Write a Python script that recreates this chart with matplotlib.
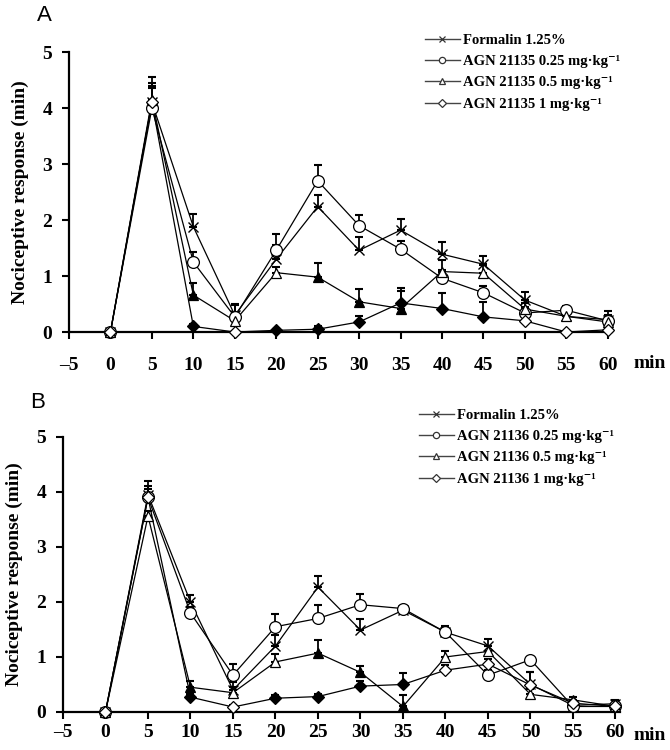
import matplotlib
matplotlib.use('Agg')
import matplotlib.pyplot as plt
from matplotlib.lines import Line2D
import numpy as np

plt.rcParams['font.family'] = ['Liberation Serif', 'DejaVu Serif']
plt.rcParams['font.weight'] = 'bold'

times = [0, 5, 10, 15, 20, 25, 30, 35, 40, 45, 50, 55, 60]

# panel A - AGN 21135
formalin_a = [0, 4.1, 1.88, 0.3, 1.3, 2.24, 1.46, 1.82, 1.39, 1.21, 0.57, 0.28, 0.22]
formalin_a_err = [0, 0.45, 0.22, 0.2, 0.25, 0.21, 0.24, 0.2, 0.22, 0.15, 0.15, 0.08, 0.16]
low_a = [0, 4.0, 1.25, 0.27, 1.46, 2.7, 1.9, 1.48, 0.96, 0.7, 0.34, 0.39, 0.2]
low_a_err = [0, 0.35, 0.18, 0.21, 0.29, 0.28, 0.19, 0.15, 0.15, 0.12, 0.1, 0.08, 0.1]
mid_a = [0, 4.15, 0.66, 0.2, 1.06, 0.98, 0.54, 0.42, 1.08, 1.05, 0.41, 0.28, 0.18]
mid_a_err = [0, 0.3, 0.22, 0.15, 0.1, 0.26, 0.23, 0.32, 0.2, 0.15, 0.1, 0.05, 0.05]
high_a = [0, 4.1, 0.1, 0.0, 0.03, 0.05, 0.18, 0.52, 0.42, 0.27, 0.2, 0.0, 0.04]
high_a_err = [0, 0.3, 0.05, 0.02, 0.03, 0.05, 0.1, 0.27, 0.28, 0.27, 0.08, 0.02, 0.03]
mid_a_sig = [10, 25, 30, 35]
high_a_sig = [10, 20, 25, 30, 35, 40, 45]

# panel B - AGN 21136
formalin_b = [0, 3.95, 2.0, 0.4, 1.2, 2.27, 1.49, 1.85, 1.45, 1.2, 0.5, 0.12, 0.15]
formalin_b_err = [0, 0.25, 0.12, 0.15, 0.2, 0.2, 0.2, 0.08, 0.12, 0.12, 0.22, 0.05, 0.06]
low_b = [0, 3.9, 1.8, 0.67, 1.55, 1.7, 1.95, 1.88, 1.45, 0.67, 0.95, 0.1, 0.1]
low_b_err = [0, 0.2, 0.1, 0.2, 0.24, 0.24, 0.2, 0.05, 0.08, 0.1, 0.05, 0.05, 0.05]
mid_b = [0, 3.56, 0.45, 0.35, 0.91, 1.07, 0.72, 0.1, 1.0, 1.1, 0.32, 0.22, 0.1]
mid_b_err = [0, 0.1, 0.12, 0.1, 0.15, 0.24, 0.12, 0.21, 0.1, 0.1, 0.1, 0.05, 0.04]
high_b = [0, 3.9, 0.27, 0.09, 0.25, 0.28, 0.47, 0.5, 0.76, 0.87, 0.49, 0.16, 0.1]
high_b_err = [0, 0.15, 0.05, 0.03, 0.05, 0.05, 0.1, 0.21, 0.1, 0.1, 0.23, 0.05, 0.04]
mid_b_sig = [10, 25, 30, 35]
high_b_sig = [10, 20, 25, 30, 35]

labels_a = ['Formalin 1.25%', 'AGN 21135 0.25 mg\u00b7kg\u207b\u00b9',
            'AGN 21135 0.5 mg\u00b7kg\u207b\u00b9', 'AGN 21135 1 mg\u00b7kg\u207b\u00b9']
labels_b = ['Formalin 1.25%', 'AGN 21136 0.25 mg\u00b7kg\u207b\u00b9',
            'AGN 21136 0.5 mg\u00b7kg\u207b\u00b9', 'AGN 21136 1 mg\u00b7kg\u207b\u00b9']

markers = ['x', 'o', '^', 'D']
msizes = [7, 8.5, 7.5, 6.5]


def draw_series(ax, y, err, marker, ms, sig):
    t = np.array(times)
    y = np.array(y)
    ax.errorbar(t, y, yerr=[np.zeros(len(err)), err], fmt='none', ecolor='black',
                elinewidth=1.3, capsize=3, capthick=1.5, zorder=2, clip_on=False)
    ax.plot(t, y, color='black', lw=0.9, zorder=3, clip_on=False)
    filled = np.isin(t, sig)
    if marker == 'x':
        ax.plot(t, y, ls='none', marker='x', ms=ms, mew=1.0, color='black', zorder=4, clip_on=False)
        return
    ax.plot(t[~filled], y[~filled], ls='none', marker=marker, ms=ms, mfc='white',
            mec='black', mew=0.9, zorder=4, clip_on=False)
    ax.plot(t[filled], y[filled], ls='none', marker=marker, ms=ms, mfc='black',
            mec='black', mew=0.9, zorder=5, clip_on=False)


def draw_panel(rect, series, letter, labels, leg_xy, xpad, min_xy, letter_y):
    ax = fig.add_axes(rect)
    for (y, err, sig), m, ms in zip(series, markers, msizes):
        draw_series(ax, y, err, m, ms, sig)
    ax.set_xlim(-5, 60.5)
    ax.set_ylim(0, 5)
    ax.set_xticks(range(-5, 61, 5))
    ax.set_xticklabels(['\u20135'] + [str(v) for v in range(0, 61, 5)])
    ax.set_yticks(range(0, 6))
    for s in ['top', 'right']:
        ax.spines[s].set_visible(False)
    for s in ['left', 'bottom']:
        ax.spines[s].set_linewidth(1.6)
    ax.tick_params(axis='x', direction='out', length=5, width=1.5, labelsize=14, pad=xpad)
    ax.tick_params(axis='y', direction='out', length=5, width=1.5, labelsize=14, pad=7)
    ax.set_ylabel('Nociceptive response (min)', fontsize=14, fontweight='bold', labelpad=10)
    ax.text(min_xy[0], min_xy[1], 'min', transform=ax.transAxes, fontsize=14, fontweight='bold',
            ha='center', va='baseline')
    ax.text(-0.045, letter_y, letter, transform=ax.transAxes, fontsize=16,
            family='Liberation Sans', fontweight='normal', ha='center', va='center')
    handles = []
    for m, lab in zip(markers, labels):
        if m == 'x':
            handles.append(Line2D([], [], color='#444444', lw=1, marker='x', ms=4.5, mew=0.9, mec='#333333'))
        else:
            handles.append(Line2D([], [], color='#444444', lw=1, marker=m, ms=4.5, mfc='white',
                                  mec='#333333', mew=0.9))
    fig.legend(handles, labels, loc='upper left', bbox_to_anchor=leg_xy, frameon=False,
               prop={'size': 10.5, 'weight': 'bold'}, handlelength=2.4, handletextpad=0.2,
               labelspacing=0.55, borderpad=0, borderaxespad=0)
    return ax


fig = plt.figure(figsize=(6.7, 7.5), dpi=100)

series_a = [(formalin_a, formalin_a_err, []), (low_a, low_a_err, []),
            (mid_a, mid_a_err, mid_a_sig), (high_a, high_a_err, high_a_sig)]
series_b = [(formalin_b, formalin_b_err, []), (low_b, low_b_err, []),
            (mid_b, mid_b_err, mid_b_sig), (high_b, high_b_err, high_b_sig)]

draw_panel([0.103, 0.5573, 0.8104, 0.3733], series_a, 'A', labels_a, (0.634, 0.955),
           13, (1.07, -0.129), 1.13)
draw_panel([0.094, 0.0507, 0.831, 0.3667], series_b, 'B', labels_b, (0.625, 0.455),
           4, (1.054, -0.102), 1.124)

fig.savefig('out.png', dpi=100)
